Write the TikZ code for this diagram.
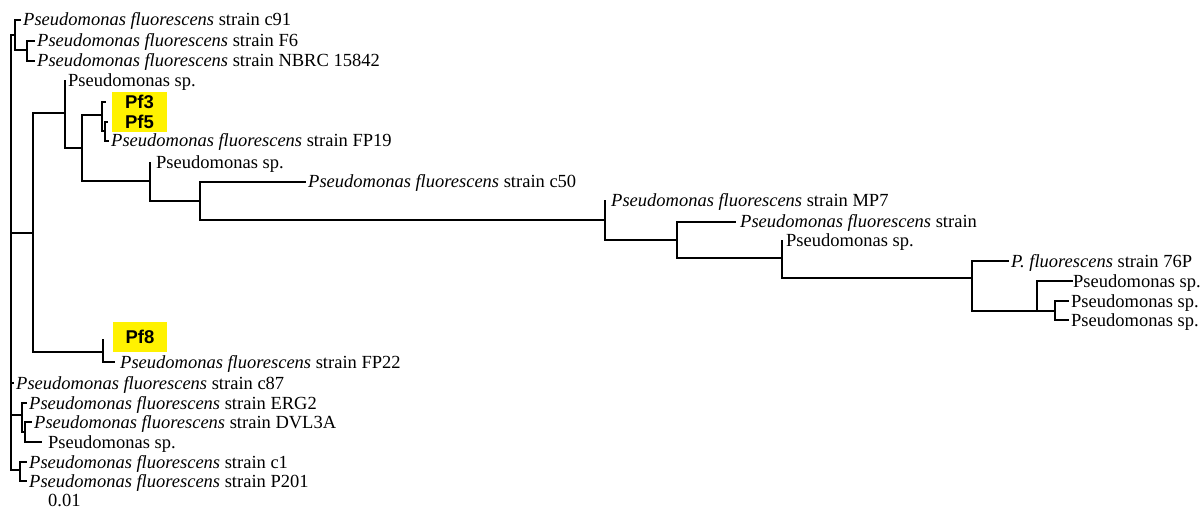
\documentclass[tikz,border=0pt]{standalone}
\usepackage{fontspec}
\setmainfont{Liberation Serif}
\newfontfamily\boxfont{Liberation Sans}
\usepackage{tikz}
\newcommand{\Pfl}{\textit{Pseudomonas fluorescens}}
\newcommand{\Psp}{Pseudomonas sp.}

\begin{document}
\begin{tikzpicture}[
  x=1pt,y=-1pt,
  branch/.style={line width=2pt,line cap=rect},
  leaf/.style={anchor=west,inner xsep=3pt,inner ysep=0pt,text height=14pt,
    text depth=2pt,font=\fontsize{18.5}{20}\selectfont},
  hilite/.style={fill=yellow,inner sep=0pt,minimum width=55pt,
    font=\boxfont\bfseries\fontsize{18.5}{20}\selectfont}
]
\useasboundingbox (0,0) rectangle (1203,508);
%% ─── Internal nodes ─────────────────────────────────────────────────────────
\coordinate (r)    at (11,233);
\coordinate (nA)   at (15,35);
\coordinate (nFN)  at (27,50);
\coordinate (nB)   at (33,233);
\coordinate (nB1)  at (65,113);
\coordinate (nB1b) at (82,148);
\coordinate (nPf)  at (102,115);
\coordinate (nPf5) at (105,131);
\coordinate (nC)   at (150,181);
\coordinate (nD)   at (200,201);
\coordinate (nE)   at (605,220);
\coordinate (nF)   at (677,240);
\coordinate (nG)   at (782,258);
\coordinate (nH)   at (972,278);
\coordinate (nI)   at (1037,311);
\coordinate (nJ)   at (1055,311);
\coordinate (nB2)  at (103,352);
\coordinate (nK)   at (22,415);
\coordinate (nL)   at (25,432);
\coordinate (nM)   at (20,470);
%% ─── Highlighted isolates ───────────────────────────────────────────────────
\node[hilite,minimum height=20pt] (Pf3) at (139.5,102) {Pf3};
\node[hilite,minimum height=20pt] (Pf5) at (139.5,122) {Pf5};
\node[hilite,minimum height=30pt,minimum width=54pt] (Pf8) at (140,337) {Pf8};
\coordinate (tPf3) at ([xshift=-7pt]Pf3.west);
\coordinate (tPf5) at ([xshift=-5pt]Pf5.west);
\coordinate (tPf8) at ([xshift=-10pt,yshift=-3pt]Pf8.west);
%% ─── Leaves ─────────────────────────────────────────────────────────────────
\node[leaf] (c91)    at (20,20)    {\Pfl{} strain c91};
\node[leaf] (F6)     at (34,41)    {\Pfl{} strain F6};
\node[leaf] (NBRC)   at (34,61)    {\Pfl{} strain NBRC 15842};
\node[leaf] (sp1)    at (65,81)    {\Psp};
\node[leaf] (FP19)   at (108,141)  {\Pfl{} strain FP19};
\node[leaf,inner xsep=6pt] (sp2) at (150,163) {\Psp};
\node[leaf] (c50)    at (305,182)  {\Pfl{} strain c50};
\node[leaf,inner xsep=6pt] (MP7) at (605,201) {\Pfl{} strain MP7};
\node[leaf,inner xsep=5pt] (strain) at (735,222) {\Pfl{} strain};
\node[leaf,inner xsep=4pt] (sp3) at (782,241) {\Psp};
\node[leaf] (fl76)   at (1008,261) {\textit{P. fluorescens} strain 76P};
\node[leaf,inner xsep=1pt] (sp4) at (1072,281) {\Psp};
\node[leaf] (sp5)    at (1068,301) {\Psp};
\node[leaf] (sp6)    at (1068,320) {\Psp};
\node[leaf,inner xsep=6pt] (FP22) at (114,362) {\Pfl{} strain FP22};
\node[leaf] (c87)    at (13,383)   {\Pfl{} strain c87};
\node[leaf] (ERG2)   at (26,403)   {\Pfl{} strain ERG2};
\node[leaf] (DVL3A)  at (31,422)   {\Pfl{} strain DVL3A};
\node[leaf,inner xsep=7pt] (sp7) at (41,442) {\Psp};
\node[leaf] (c1)     at (26,462)   {\Pfl{} strain c1};
\node[leaf] (P201)   at (26,481)   {\Pfl{} strain P201};
\node[leaf,inner sep=0pt,text height=12pt,text depth=0pt] (scale)
  at (48,500) {0.01};
%% ─── Branches ───────────────────────────────────────────────────────────────
\foreach \a/\b in {r/nA,r/nB,r/nK,r/nM,nA/nFN,nB/nB1,nB/nB2,nB1/nB1b,
    nB1b/nPf,nB1b/nC,nPf/tPf3,nPf/nPf5,nPf5/tPf5,nC/nD,nD/nE,nE/nF,nF/nG,
    nG/nH,nH/nI,nI/nJ,nB2/tPf8,nK/nL}
  \draw[branch] (\a) |- (\b);
\foreach \a/\b in {nA/c91,nFN/F6,nFN/NBRC,nB1/sp1,nPf5/FP19,nC/sp2,nD/c50,
    nE/MP7,nF/strain,nG/sp3,nH/fl76,nI/sp4,nJ/sp5,nJ/sp6,nB2/FP22,r/c87,
    nK/ERG2,nL/DVL3A,nL/sp7,nM/c1,nM/P201}
  \draw[branch] (\a) |- (\b.west);
\end{tikzpicture}
\end{document}
